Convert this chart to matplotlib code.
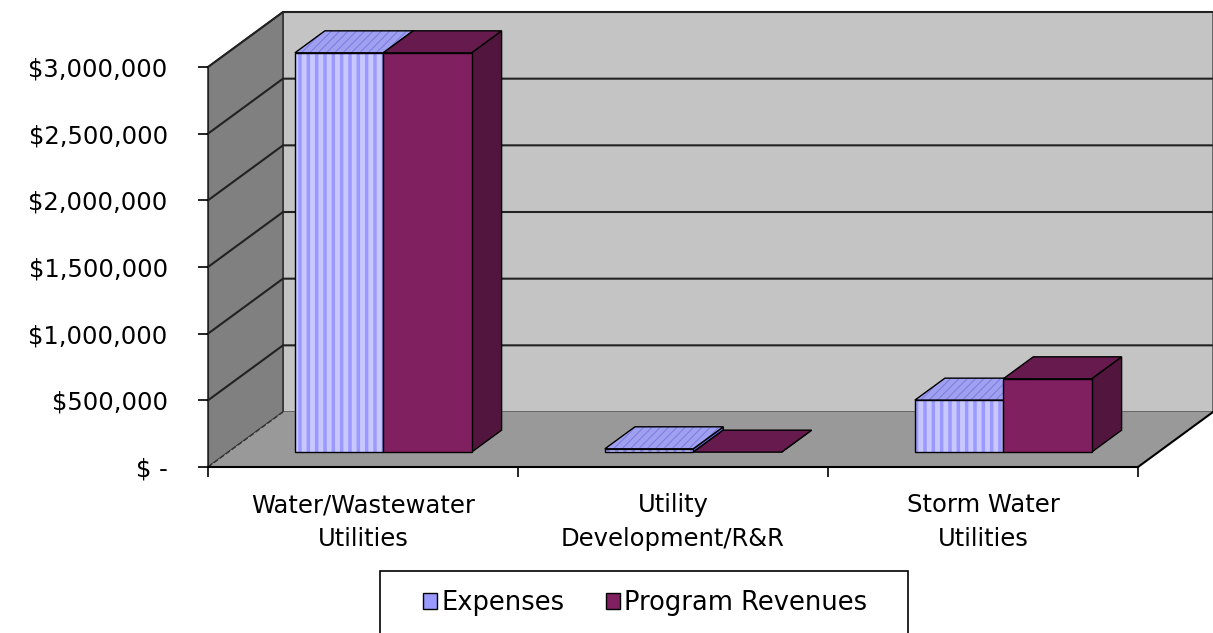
import numpy as np
import matplotlib
matplotlib.use('Agg')
import matplotlib.pyplot as plt
from matplotlib.patches import Polygon, Rectangle, Patch
from matplotlib.transforms import IdentityTransform
from matplotlib.ticker import FuncFormatter

# данные
categories = ['Water/Wastewater\nUtilities', 'Utility\nDevelopment/R&R', 'Storm Water\nUtilities']
series = ['Expenses', 'Program Revenues']
expenses = [2995000, 25000, 390000]
revenues = [2995000, 0, 550000]
y_ticks = [0, 500000, 1000000, 1500000, 2000000, 2500000, 3000000]

plt.rcParams['font.family'] = ['DejaVu Sans']
plt.rcParams['hatch.linewidth'] = 3.5

W, H = 1213, 633
fig = plt.figure(figsize=(W / 100, H / 100), dpi=100)
ax = fig.add_axes([208 / W, (H - 467) / H, 930 / W, 400 / H])
ax.set_xlim(0, 3)
ax.set_ylim(0, 3000000)
ax.patch.set_visible(False)

# псевдо-3D: смещение глубины в пикселях
DX, DY = 75, 55
F0, F1 = 0.27, 0.67   # передняя и задняя грань столбцов
BAR_W = 0.285

ID = IdentityTransform()


def P(x, y, f):
    px, py = ax.transData.transform((x, y))
    return (px + DX * f, py + DY * f)


def face(pts, fc, ec='black', lw=1.0, z=1, hatch=None, hc=None, ls='-'):
    if hatch:
        ax.add_patch(Polygon(pts, closed=True, facecolor=fc, edgecolor=hc, lw=0,
                             hatch=hatch, transform=ID, clip_on=False, zorder=z))
        ax.add_patch(Polygon(pts, closed=True, fill=False, edgecolor=ec, lw=lw,
                             transform=ID, clip_on=False, zorder=z))
    else:
        ax.add_patch(Polygon(pts, closed=True, facecolor=fc, edgecolor=ec, lw=lw,
                             ls=ls, transform=ID, clip_on=False, zorder=z))


ymax = y_ticks[-1]
# стенки и пол
face([P(0, 0, 1), P(3, 0, 1), P(3, ymax, 1), P(0, ymax, 1)], '#C4C4C4', ec='#555555', lw=1.2, z=0.1)
face([P(0, 0, 0), P(0, 0, 1), P(0, ymax, 1), P(0, ymax, 0)], '#808080', ec='#333333', lw=1.2, z=0.2)
face([P(0, 0, 0), P(3, 0, 0), P(3, 0, 1), P(0, 0, 1)], '#999999', ec='none', lw=0, z=0.3)
ax.plot(*zip(P(3, 0, 0), P(3, 0, 1)), color='black', lw=1.5, transform=ID, clip_on=False, zorder=0.4)
ax.plot(*zip(P(0, 0, 0), P(0, 0, 1)), color='#333333', lw=1, ls='--', transform=ID, clip_on=False, zorder=0.4)

# линии сетки
for t in y_ticks[1:]:
    ax.plot(*zip(P(0, t, 0), P(0, t, 1), P(3, t, 1)), color='#222222', lw=1.5,
            transform=ID, clip_on=False, zorder=0.35)

# столбцы
styles = [
    dict(front='#9999FF', fh='||', fhc='#C8C8FF', top='#7C7CE0', th='////', thc='#A0A0F0', side='#6666CC'),
    dict(front='#802060', fh=None, fhc=None, top='#661A4D', th=None, thc=None, side='#52163E'),
]
for i in range(len(categories)):
    vals = [expenses[i], revenues[i]]
    for s, v in enumerate(vals):
        st = styles[s]
        x0 = i + 0.5 - BAR_W + s * BAR_W
        x1 = x0 + BAR_W
        z = 2 + i + s * 0.1
        # боковая грань
        face([P(x1, 0, F0), P(x1, 0, F1), P(x1, v, F1), P(x1, v, F0)], st['side'], z=z)
        # верхняя грань
        face([P(x0, v, F0), P(x1, v, F0), P(x1, v, F1), P(x0, v, F1)], st['top'], z=z,
             hatch=st['th'], hc=st['thc'])
        # передняя грань
        if v > 0:
            face([P(x0, 0, F0), P(x1, 0, F0), P(x1, v, F0), P(x0, v, F0)], st['front'], z=z,
                 hatch=st['fh'], hc=st['fhc'])

# оси
for sp in ['top', 'right']:
    ax.spines[sp].set_visible(False)
ax.spines['left'].set_color('#222222')
ax.spines['bottom'].set_color('black')
ax.spines['bottom'].set_linewidth(1.5)
ax.set_yticks(y_ticks)
ax.yaxis.set_major_formatter(FuncFormatter(lambda v, p: '$ -' if v == 0 else f'${v:,.0f}'))
ax.tick_params(axis='y', length=7, width=1.2, pad=22, labelsize=17.5)
ax.set_xticks([0, 1, 2, 3])
ax.set_xticklabels([])
ax.set_xticks([0.5, 1.5, 2.5], minor=True)
ax.set_xticklabels(categories, minor=True, fontsize=17.5, linespacing=1.5)
ax.tick_params(axis='x', which='major', length=7, width=1.2)
ax.tick_params(axis='x', which='minor', length=0, pad=19)

# легенда
fig.patches.append(Rectangle((380 / W, (H - 645) / H), 528 / W, 74 / H, transform=fig.transFigure,
                             facecolor='white', edgecolor='black', lw=1.2))
handles = [Patch(facecolor='#9999FF', edgecolor='black', label=series[0]),
           Patch(facecolor='#802060', edgecolor='black', label=series[1])]
fig.legend(handles=handles, loc='center', bbox_to_anchor=(645 / W, (H - 603) / H), ncol=2,
           frameon=False, fontsize=18.5, handlelength=0.55, handleheight=0.55,
           handletextpad=0.15, columnspacing=1.6)

fig.savefig('out.png', dpi=100)
